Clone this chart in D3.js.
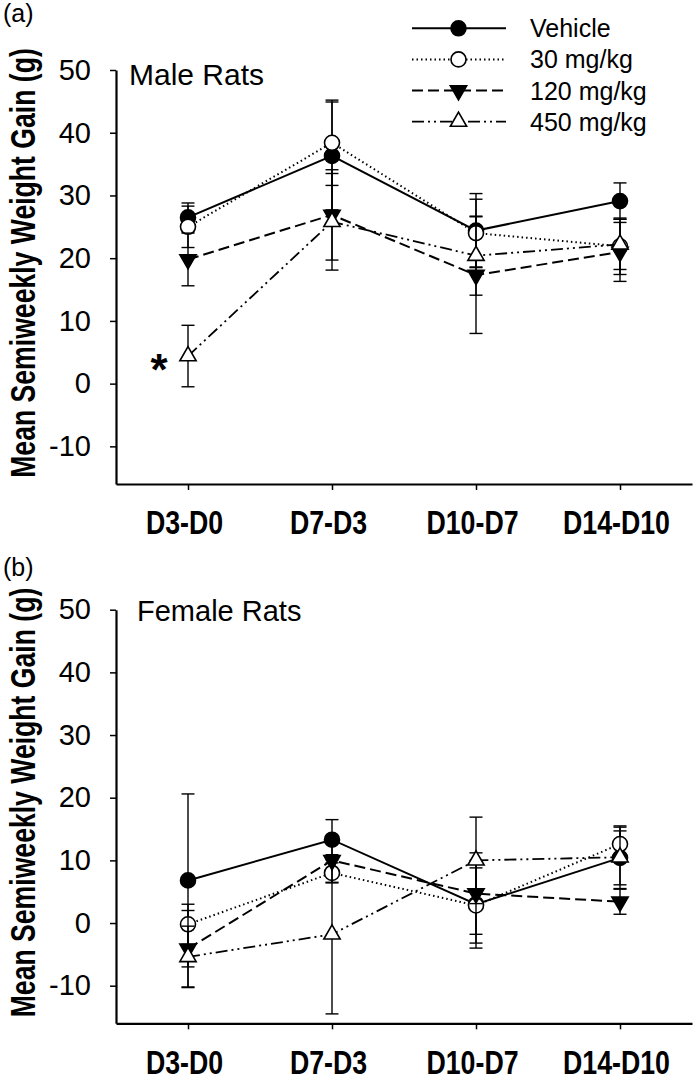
<!DOCTYPE html>
<html>
<head>
<meta charset="utf-8">
<script src="https://cdn.jsdelivr.net/npm/d3@7"></script>
<style>
body { margin: 0; background: #fff; }
text { font-family: "Liberation Sans", Arial, sans-serif; fill: #000; }
</style>
</head>
<body>
<svg id="chart" width="696" height="1085"></svg>
<script>
const categories = ["D3-D0", "D7-D3", "D10-D7", "D14-D10"];
const seriesNames = ["Vehicle", "30 mg/kg", "120 mg/kg", "450 mg/kg"];
const yTicks = [-10, 0, 10, 20, 30, 40, 50];

// male rats, mean and SE per series (rows follow seriesNames)
const maleMeans = [
    [26.5, 36.3, 24.4, 29.1],
    [25.0, 38.4, 24.0, 21.9],
    [19.8, 26.9, 17.3, 21.0],
    [4.4, 25.8, 20.4, 22.2],
];
const maleSE = [
    [2.3, 8.6, 5.9, 2.9],
    [3.3, 6.8, 5.4, 4.5],
    [4.2, 7.2, 9.3, 4.7],
    [4.9, 7.7, 6.3, 4.0],
];

// female rats
const femaleMeans = [
    [6.8, 13.3, 3.0, 10.4],
    [-0.2, 8.0, 2.8, 12.6],
    [-4.1, 10.0, 4.7, 3.4],
    [-5.4, -1.8, 10.0, 10.5],
];
const femaleSE = [
    [13.8, 3.2, 7.0, 4.3],
    [3.2, 1.6, 6.0, 2.7],
    [6.1, 3.5, 6.5, 2.0],
    [4.9, 12.7, 6.9, 5.0],
];

const styles = [
    {dash: null, fill: "#000", shape: "circle", sw: 2},
    {dash: "1.5,3", fill: "#fff", shape: "circle", sw: 2},
    {dash: "11,5", fill: "#000", shape: "down", sw: 2},
    {dash: "12,4,2,4,2,4", fill: "#fff", shape: "up", sw: 1.8},
];

const svg = d3.select("#chart");

function squeeze(sel, k) {
    sel.each(function() {
        let w = this.getComputedTextLength();
        d3.select(this).attr("textLength", w * k).attr("lengthAdjust", "spacingAndGlyphs");
    });
}

function symbolPath(shape) {
    if (shape == "circle") return d3.symbol(d3.symbolCircle, Math.PI * 7.5 * 7.5)();
    return d3.symbol(d3.symbolTriangle, 115)();
}

function drawMarker(g, shape, fill, cx, cy) {
    g.append("path")
        .attr("d", symbolPath(shape))
        .attr("transform", `translate(${cx},${cy})` + (shape == "down" ? " rotate(180)" : ""))
        .attr("fill", fill)
        .attr("stroke", "#000")
        .attr("stroke-width", 1.6);
}

let x = d3.scalePoint()
    .domain(categories)
    .range([116, 692])
    .padding(0.5);

function draw_panel(p) {
    let y = d3.scaleLinear().domain([-16, 50]).range([p.bottom, p.top]);
    let g = svg.append("g");

    // y axis
    let ya = g.append("g")
        .attr("transform", `translate(116,0)`)
        .call(d3.axisLeft(y).tickValues(yTicks).tickFormat(d => String(d))
            .tickSize(6).tickSizeOuter(0).tickPadding(19));
    ya.select(".domain").attr("stroke-width", 2.2);
    ya.selectAll(".tick line").attr("stroke-width", 1.5);
    ya.selectAll("text").style("font-size", "29px");

    // x axis
    let xa = g.append("g")
        .attr("transform", `translate(0,${p.bottom})`)
        .call(d3.axisBottom(x).tickSize(6).tickSizeOuter(0).tickPadding(21));
    xa.select(".domain").attr("stroke-width", 2.2);
    xa.selectAll(".tick line").attr("stroke-width", 1.5);
    xa.selectAll("text").style("font-size", "33px").style("font-weight", "bold")
        .attr("dx", -4);
    squeeze(xa.selectAll("text"), 0.81);

    // y label
    let yl = g.append("text")
        .attr("transform", `translate(35,${(p.top + p.bottom) / 2 - 14}) rotate(-90)`)
        .attr("text-anchor", "middle")
        .style("font-size", "35px")
        .style("font-weight", "bold")
        .text("Mean Semiweekly Weight Gain (g)");
    squeeze(yl, 0.76);

    g.append("text").attr("x", 3).attr("y", p.tagY)
        .style("font-size", "25px").text(p.tag);
    g.append("text").attr("x", p.titleX).attr("y", p.titleY)
        .style("font-size", p.titleSize + "px").text(p.title);

    for (let s = 0; s < seriesNames.length; ++s) {
        let st = styles[s];
        let pts = categories.map((c, i) => ({c: c, v: p.means[s][i], e: p.se[s][i]}));
        let sg = g.append("g");
        // error bars
        pts.forEach(d => {
            let cx = x(d.c);
            sg.append("line").attr("x1", cx).attr("x2", cx)
                .attr("y1", y(d.v - d.e)).attr("y2", y(d.v + d.e))
                .attr("stroke", "#000").attr("stroke-width", 1.4);
            [d.v - d.e, d.v + d.e].forEach(v => {
                sg.append("line").attr("x1", cx - 6.5).attr("x2", cx + 6.5)
                    .attr("y1", y(v)).attr("y2", y(v))
                    .attr("stroke", "#000").attr("stroke-width", 1.4);
            });
        });
        let line = d3.line().x(d => x(d.c)).y(d => y(d.v));
        sg.append("path")
            .datum(pts)
            .attr("fill", "none")
            .attr("stroke", "#000")
            .attr("stroke-width", st.sw)
            .attr("stroke-dasharray", st.dash)
            .attr("d", line);
        pts.forEach(d => drawMarker(sg, st.shape, st.fill, x(d.c), y(d.v)));
    }

    if (p.star) {
        let d = p.star;
        g.append("text")
            .attr("x", x(categories[d[1]]) - 29)
            .attr("y", y(p.means[d[0]][d[1]]) + 29)
            .attr("text-anchor", "middle")
            .style("font-size", "44px")
            .style("font-weight", "bold")
            .text("*");
    }
}

draw_panel({top: 70, bottom: 484, tag: "(a)", tagY: 22, title: "Male Rats",
    titleX: 129, titleY: 85, titleSize: 30, means: maleMeans, se: maleSE, star: [3, 0]});
draw_panel({top: 609.7, bottom: 1023.3, tag: "(b)", tagY: 576, title: "Female Rats",
    titleX: 137, titleY: 621, titleSize: 29, means: femaleMeans, se: femaleSE, star: null});

// legend
let leg = svg.append("g");
seriesNames.forEach((name, i) => {
    let st = styles[i];
    let ly = 28.3 + i * 31.1;
    leg.append("line").attr("x1", 412).attr("x2", 506).attr("y1", ly).attr("y2", ly)
        .attr("stroke", "#000").attr("stroke-width", st.sw)
        .attr("stroke-dasharray", st.dash);
    drawMarker(leg, st.shape, st.fill, 458.5, ly);
    leg.append("text").attr("x", 530).attr("y", ly + 9)
        .style("font-size", "25px").text(name);
});
</script>
</body>
</html>
